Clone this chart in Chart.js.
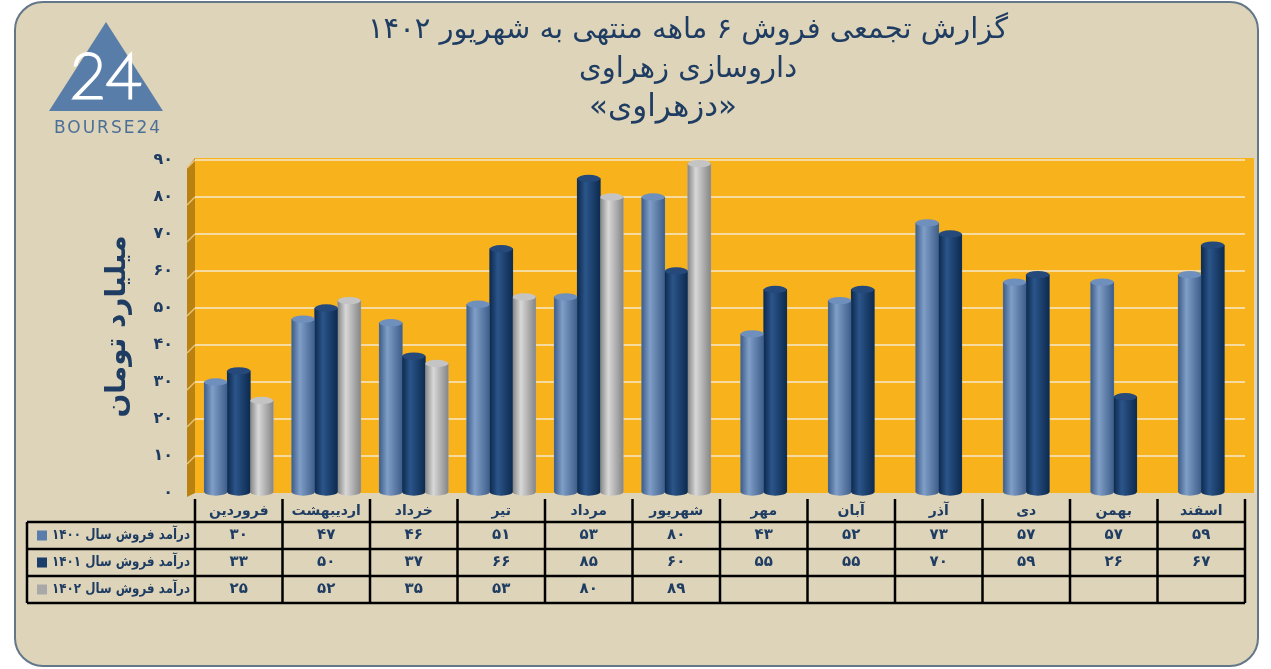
<!DOCTYPE html>
<html lang="fa">
<head>
<meta charset="utf-8">
<title>دزهراوی</title>
<script src="https://cdn.jsdelivr.net/npm/chart.js@4.4.0/dist/chart.umd.min.js"></script>
<style>
  html, body { margin: 0; padding: 0; background: #fff; }
  #wrap { width: 1271px; height: 669px; }
</style>
</head>
<body>
<div id="wrap"><canvas id="myChart" width="1271" height="669"></canvas></div>
<script>
// ماه ها و درآمد فروش (میلیارد تومان)
const months = ['فروردین', 'اردیبهشت', 'خرداد', 'تیر', 'مرداد', 'شهریور', 'مهر', 'آبان', 'آذر', 'دی', 'بهمن', 'اسفند'];
const sales1400 = [30, 47, 46, 51, 53, 80, 43, 52, 73, 57, 57, 59];
const sales1401 = [33, 50, 37, 66, 85, 60, 55, 55, 70, 59, 26, 67];
const sales1402 = [25, 52, 35, 53, 80, 89, null, null, null, null, null, null];
const seriesNames = ['درآمد فروش سال ۱۴۰۰', 'درآمد فروش سال ۱۴۰۱', 'درآمد فروش سال ۱۴۰۲'];
const yTicks = [0, 10, 20, 30, 40, 50, 60, 70, 80, 90];
const titleLines = ['گزارش تجمعی فروش ۶ ماهه منتهی به شهریور ۱۴۰۲', 'داروسازی زهراوی', '«دزهراوی»'];
const yTitle = 'میلیارد تومان';

const navy = '#1f3d63';
const faFont = 'DejaVu Sans';
const seriesColors = [
    { edge: '#3e5e8a', mid: '#7f9fc8', top: '#6f90bd', flat: '#5a7dab' },
    { edge: '#0c2a4f', mid: '#2b558a', top: '#24497a', flat: '#1a3d6b' },
    { edge: '#868686', mid: '#d8d8d8', top: '#c4c4c4', flat: '#a8a8a8' }
];

function faNum(v) {
    return String(v).replace(/\d/g, d => '۰۱۲۳۴۵۶۷۸۹'[d]);
}

function line(ctx, x1, y1, x2, y2) {
    ctx.beginPath();
    ctx.moveTo(x1, y1);
    ctx.lineTo(x2, y2);
    ctx.stroke();
}

// متن راست چین که اگر جا نشود کمی فشرده می شود
function fitText(ctx, txt, xRight, y, maxW) {
    const w = ctx.measureText(txt).width;
    const s = Math.min(1, maxW / w);
    ctx.save();
    ctx.translate(xRight, y);
    ctx.scale(s, 1);
    ctx.fillText(txt, 0, 0);
    ctx.restore();
}

// کارت، پس زمینه نارنجی، دیوار سه بعدی، عنوان و لوگو
const backgroundPlugin = {
    id: 'background',
    beforeDraw(chart) {
        const ctx = chart.ctx;
        const a = chart.chartArea;
        ctx.save();
        ctx.fillStyle = '#fff';
        ctx.fillRect(0, 0, chart.width, chart.height);
        ctx.beginPath();
        ctx.roundRect(15, 2, 1243, 664, 28);
        ctx.fillStyle = '#ded4b9';
        ctx.fill();
        ctx.strokeStyle = '#637789';
        ctx.lineWidth = 2;
        ctx.stroke();

        // plot area
        ctx.fillStyle = '#f8b21c';
        ctx.fillRect(a.left, a.top - 2, a.right - a.left + 9, a.bottom - a.top + 2);
        // left wall
        ctx.fillStyle = '#b9810f';
        ctx.beginPath();
        ctx.moveTo(a.left - 8, a.top + 8);
        ctx.lineTo(a.left, a.top - 2);
        ctx.lineTo(a.left, a.bottom);
        ctx.lineTo(a.left - 8, a.bottom + 4);
        ctx.closePath();
        ctx.fill();
        ctx.strokeStyle = '#e9c47a';
        ctx.lineWidth = 1.5;
        const ys = chart.scales.y;
        ys.ticks.forEach(t => {
            if (t.value === 0) return;
            const y = ys.getPixelForValue(t.value);
            line(ctx, a.left, y, a.left - 8, y + 8);
        });

        // titles
        ctx.fillStyle = navy;
        ctx.textAlign = 'center';
        ctx.textBaseline = 'middle';
        ctx.direction = 'rtl';
        ctx.font = '29px "' + faFont + '"';
        ctx.fillText(titleLines[0], 688, 30);
        ctx.fillText(titleLines[1], 688, 69);
        ctx.font = '31px "' + faFont + '"';
        ctx.fillText(titleLines[2], 663, 108);

        // logo
        ctx.direction = 'ltr';
        ctx.fillStyle = '#587da8';
        ctx.beginPath();
        ctx.moveTo(106, 22);
        ctx.lineTo(163, 111);
        ctx.lineTo(49, 111);
        ctx.closePath();
        ctx.fill();
        ctx.strokeStyle = '#fff';
        ctx.lineWidth = 3;
        ctx.font = '200 62px Lato';
        ctx.strokeText('24', 106, 78);
        ctx.fillStyle = '#4c6f98';
        ctx.font = '17px "DejaVu Sans"';
        ctx.letterSpacing = '2px';
        ctx.fillText('BOURSE24', 108, 129);
        ctx.letterSpacing = '0px';
        ctx.restore();
    }
};

// استوانه ها
const cylinderPlugin = {
    id: 'cylinders',
    afterDatasetsDraw(chart) {
        const ctx = chart.ctx;
        chart.data.datasets.forEach((ds, di) => {
            const meta = chart.getDatasetMeta(di);
            const c = seriesColors[di];
            meta.data.forEach((bar, i) => {
                if (ds.data[i] == null) return;
                const p = bar.getProps(['x', 'y', 'base', 'width'], true);
                const rx = p.width / 2;
                const ry = p.width * 0.16;
                const g = ctx.createLinearGradient(p.x - rx, 0, p.x + rx, 0);
                g.addColorStop(0, c.edge);
                g.addColorStop(0.35, c.mid);
                g.addColorStop(1, c.edge);
                ctx.save();
                ctx.fillStyle = g;
                ctx.beginPath();
                ctx.moveTo(p.x - rx, p.y);
                ctx.lineTo(p.x - rx, p.base);
                ctx.ellipse(p.x, p.base, rx, ry, 0, Math.PI, 0, true);
                ctx.lineTo(p.x + rx, p.y);
                ctx.closePath();
                ctx.fill();
                ctx.fillStyle = c.top;
                ctx.beginPath();
                ctx.ellipse(p.x, p.y, rx, ry, 0, 0, Math.PI * 2);
                ctx.fill();
                ctx.restore();
            });
        });
    }
};

// جدول داده ها زیر نمودار
const tablePlugin = {
    id: 'dataTable',
    afterDraw(chart) {
        const ctx = chart.ctx;
        const a = chart.chartArea;
        const xs = chart.scales.x;
        const colW = (a.right - a.left) / months.length;
        const tLeft = 27;
        const hTop = 499;
        const rowsY = [522, 549, 576, 603];
        const rows = [sales1400, sales1401, sales1402];
        ctx.save();
        ctx.strokeStyle = '#000';
        ctx.lineWidth = 2.5;
        rowsY.forEach(y => line(ctx, tLeft, y, a.right, y));
        for (let i = 0; i <= months.length; i++) {
            const x = a.left + i * colW;
            line(ctx, x, hTop, x, rowsY[3]);
        }
        line(ctx, tLeft, rowsY[0], tLeft, rowsY[3]);

        ctx.fillStyle = navy;
        ctx.textAlign = 'center';
        ctx.textBaseline = 'middle';
        ctx.direction = 'rtl';
        ctx.font = 'bold 14px "' + faFont + '"';
        months.forEach((m, i) => ctx.fillText(m, xs.getPixelForValue(i), 511));
        ctx.font = 'bold 15px "' + faFont + '"';
        rows.forEach((vals, r) => {
            const y = (rowsY[r] + rowsY[r + 1]) / 2;
            vals.forEach((v, i) => {
                if (v == null) return;
                ctx.fillText(faNum(v), xs.getPixelForValue(i), y);
            });
        });
        ctx.textAlign = 'right';
        ctx.font = 'bold 14px "' + faFont + '"';
        seriesNames.forEach((name, r) => {
            const y = (rowsY[r] + rowsY[r + 1]) / 2;
            ctx.fillStyle = navy;
            fitText(ctx, name, 190, y, 138);
            ctx.fillStyle = seriesColors[r].flat;
            ctx.fillRect(37, y - 5, 10, 10);
        });
        ctx.restore();
    }
};

const ctx = document.getElementById('myChart');
new Chart(ctx, {
    type: 'bar',
    data: {
        labels: months,
        datasets: [
            { label: seriesNames[0], data: sales1400, backgroundColor: seriesColors[0].flat },
            { label: seriesNames[1], data: sales1401, backgroundColor: seriesColors[1].flat },
            { label: seriesNames[2], data: sales1402, backgroundColor: seriesColors[2].flat }
        ]
    },
    options: {
        responsive: false,
        animation: false,
        layout: { padding: { left: 97, right: 26, top: 160, bottom: 176 } },
        datasets: { bar: { barThickness: 23, skipNull: true } },
        plugins: {
            legend: { display: false },
            tooltip: { enabled: false }
        },
        scales: {
            x: { display: false },
            y: {
                min: 0,
                max: 90,
                afterBuildTicks(axis) {
                    axis.ticks = yTicks.map(v => ({ value: v }));
                },
                afterFit(axis) {
                    axis.width = 98;
                },
                border: { display: false },
                grid: {
                    drawTicks: false,
                    lineWidth: 2,
                    color: c => c.tick && c.tick.value === 0 ? 'rgba(0,0,0,0)' : '#f6dba0'
                },
                ticks: {
                    padding: 22,
                    color: navy,
                    font: { family: faFont, size: 16, weight: 'bold' },
                    callback: v => faNum(v)
                },
                title: {
                    display: true,
                    text: yTitle,
                    color: navy,
                    font: { family: faFont, size: 28, weight: 'bold' }
                }
            }
        }
    },
    plugins: [backgroundPlugin, cylinderPlugin, tablePlugin]
});
</script>
</body>
</html>
